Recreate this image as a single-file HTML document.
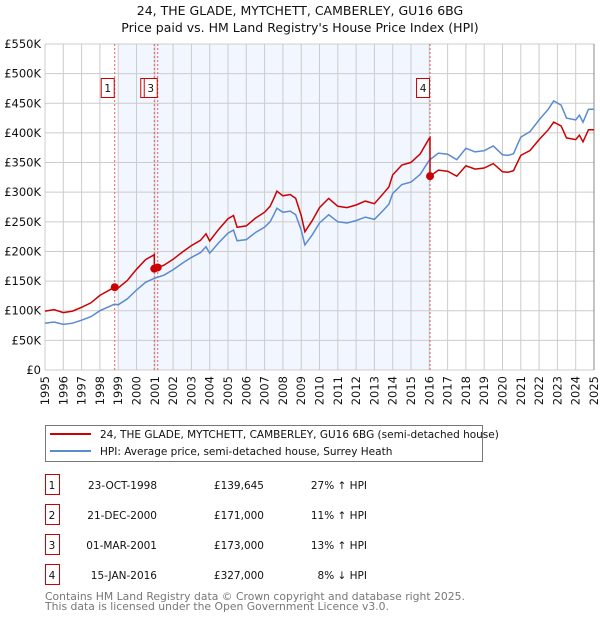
<!DOCTYPE html>
<html><head><meta charset="utf-8"><style>
body{margin:0;background:#fff;font-family:"DejaVu Sans","Liberation Sans",sans-serif;}
svg text{font-family:"DejaVu Sans","Liberation Sans",sans-serif;}
</style></head><body>
<svg id="c" width="600" height="620" xmlns="http://www.w3.org/2000/svg">
<text x="300" y="15" text-anchor="middle" font-size="12.5" fill="#111">24, THE GLADE, MYTCHETT, CAMBERLEY, GU16 6BG</text>
<text x="300" y="32" text-anchor="middle" font-size="12.5" fill="#111">Price paid vs. HM Land Registry's House Price Index (HPI)</text>
<g id="plot"></g>
<g>
<rect x="45.5" y="425.5" width="437" height="36" fill="#fff" stroke="#777"/>
<line x1="50" y1="434" x2="91" y2="434" stroke="#cc0000" stroke-width="2"/>
<text x="100" y="438" font-size="10.5" fill="#111">24, THE GLADE, MYTCHETT, CAMBERLEY, GU16 6BG (semi-detached house)</text>
<line x1="50" y1="451" x2="91" y2="451" stroke="#5a8ad0" stroke-width="2"/>
<text x="100" y="455" font-size="10.5" fill="#111">HPI: Average price, semi-detached house, Surrey Heath</text>
</g>
<g id="table" font-size="10.5" fill="#111"></g>
<text x="45" y="600" font-size="10.8" fill="#777">Contains HM Land Registry data © Crown copyright and database right 2025.</text>
<text x="45" y="610" font-size="10.8" fill="#777">This data is licensed under the Open Government Licence v3.0.</text>
</svg>
<script>
const hpiYears=[1995,1995.5,1996,1996.5,1997,1997.5,1998,1998.8,1999,1999.5,2000,2000.5,2001,2001.5,2002,2002.5,2003,2003.5,2003.8,2004,2004.5,2005,2005.3,2005.5,2006,2006.5,2007,2007.3,2007.5,2007.67,2008,2008.4,2008.7,2009,2009.2,2009.6,2010,2010.5,2011,2011.5,2012,2012.5,2013,2013.5,2013.8,2014,2014.5,2015,2015.5,2016,2016.5,2017,2017.5,2018,2018.5,2019,2019.5,2020,2020.3,2020.6,2021,2021.5,2022,2022.5,2022.8,2023.2,2023.5,2024,2024.2,2024.4,2024.7,2025];
const hpiValues=[79,81,77,79,84,90,100,111,110,120,135,148,155,160,169,180,190,198,208,197,215,231,236,218,220,232,241,250,262,273,266,268,262,236,211,228,248,262,250,248,252,258,254,270,280,298,313,317,330,354,366,364,355,374,368,370,378,363,362,365,393,402,422,440,454,447,425,422,430,418,440,440];
const saleLabels=["1","2","3","4"];
const saleDates=["23-OCT-1998","21-DEC-2000","01-MAR-2001","15-JAN-2016"];
const saleYears=[1998.81,2000.97,2001.16,2016.04];
const salePrices=[139.645,171,173,327];
const salePriceText=["£139,645","£171,000","£173,000","£327,000"];
const salePct=["27% ↑ HPI","11% ↑ HPI","13% ↑ HPI","8% ↓ HPI"];
const yTicks=[0,50,100,150,200,250,300,350,400,450,500,550];
const yTickLabels=["£0","£50K","£100K","£150K","£200K","£250K","£300K","£350K","£400K","£450K","£500K","£550K"];
const xTicks=[1995,1996,1997,1998,1999,2000,2001,2002,2003,2004,2005,2006,2007,2008,2009,2010,2011,2012,2013,2014,2015,2016,2017,2018,2019,2020,2021,2022,2023,2024,2025];

const X0=45,X1=594,Y0=370,Y1=44;
const xs=y=>X0+(y-1995)/30*(X1-X0);
const ys=v=>Y0-v/550*(Y0-Y1);
const NS="http://www.w3.org/2000/svg";
const plot=document.getElementById('plot');
function mk(tag,attrs,parent){const e=document.createElementNS(NS,tag);for(const k in attrs)e.setAttribute(k,attrs[k]);(parent||plot).appendChild(e);return e;}
function hpiAt(y){for(let i=1;i<hpiYears.length;i++){if(y<=hpiYears[i]){const t=(y-hpiYears[i-1])/(hpiYears[i]-hpiYears[i-1]);return hpiValues[i-1]+t*(hpiValues[i]-hpiValues[i-1]);}}return hpiValues[hpiValues.length-1];}

const bg=mk('rect',{x:X0,y:Y1,width:X1-X0,height:Y0-Y1,fill:'#fff'});


const shade=mk('rect',{x:xs(saleYears[0])+3.5,y:Y1,width:xs(saleYears[3])-xs(saleYears[0])-3.5,height:Y0-Y1,fill:'#f2f6fe'});


for(let i=0;i<yTicks.length;i++){
  const g=mk('line',{x1:X0,x2:X1,y1:ys(yTicks[i]),y2:ys(yTicks[i]),stroke:'#ccc','stroke-width':1});
  
  
  const t=mk('text',{x:X0-4,y:ys(yTicks[i])+4,'text-anchor':'end','font-size':'11.5',fill:'#111'});
  t.textContent=yTickLabels[i];
  
  
}
for(let i=0;i<xTicks.length;i++){
  const x=xs(xTicks[i]);
  const g=mk('line',{x1:x,x2:x,y1:Y1,y2:Y0,stroke:'#ccc','stroke-width':1});
  
  
  const t=mk('text',{x:x+4,y:Y0+6,'text-anchor':'end','font-size':'11.5',fill:'#111',transform:`rotate(-90 ${x+4} ${Y0+6})`});
  t.textContent=xTicks[i];
  
  
}
const rEdge=mk('line',{x1:X1,x2:X1,y1:Y1,y2:Y0,stroke:'#888','stroke-width':1});


for(let i=0;i<saleYears.length;i++){
  const x=xs(saleYears[i]);
  const l=mk('line',{x1:x,x2:x,y1:Y1,y2:Y0,stroke:'#e06060','stroke-width':1,'stroke-dasharray':'2,2'});
  
  
}
let d='';
for(let i=0;i<hpiYears.length;i++)d+=(i?'L':'M')+xs(hpiYears[i]).toFixed(1)+','+ys(hpiValues[i]).toFixed(1);
const hl=mk('path',{d:d,fill:'none',stroke:'#5a8ad0','stroke-width':1.5});


const segStarts=[1995,saleYears[1],saleYears[2],saleYears[3]];
const segRef=[0,1,2,3];
let pd='';
for(let s=0;s<4;s++){
  const ratio=salePrices[segRef[s]]/hpiAt(saleYears[segRef[s]]);
  const a=segStarts[s],b=s<3?segStarts[s+1]:2025;
  const pts=[a].concat(hpiYears.filter(y=>y>a&&y<b)).concat([b]);
  pts.forEach((y,j)=>{pd+=(pd===''?'M':'L')+xs(y).toFixed(1)+','+ys(hpiAt(y)*ratio).toFixed(1);});
}
const pl=mk('path',{d:pd,fill:'none',stroke:'#cc0000','stroke-width':1.5});


for(let i=0;i<saleYears.length;i++){
  const c=mk('circle',{cx:xs(saleYears[i]),cy:ys(salePrices[i]),r:4,fill:'#cc0000'});
  
  
}
for(let i=0;i<saleYears.length;i++){
  const x=xs(saleYears[i]);
  const r=mk('rect',{x:x-13.5,y:78.5,width:13,height:19,fill:'#fff',stroke:'#cc0000','stroke-width':1});
  
  
  const t=mk('text',{x:x-7,y:92,'text-anchor':'middle','font-size':'10.5',fill:'#111'});
  t.textContent=saleLabels[i];
  
  
}
const tb=document.getElementById('table');
for(let i=0;i<saleLabels.length;i++){
  const cy=483+i*30;
  const r=mk('rect',{x:45.5,y:cy-8.5,width:14,height:20,fill:'#fff',stroke:'#cc0000','stroke-width':1},tb);
  
  
  const vals=[[52,'middle',saleLabels[i],'table-row-number'],[157,'end',saleDates[i],'table-date'],[264,'end',salePriceText[i],'table-price'],[367,'end',salePct[i],'table-hpi-diff']];
  vals.forEach(v=>{
    const t=mk('text',{x:v[0],y:cy+6,'text-anchor':v[1]},tb);
    t.textContent=v[2];
    
    
  });
}
</script>
</body></html>
